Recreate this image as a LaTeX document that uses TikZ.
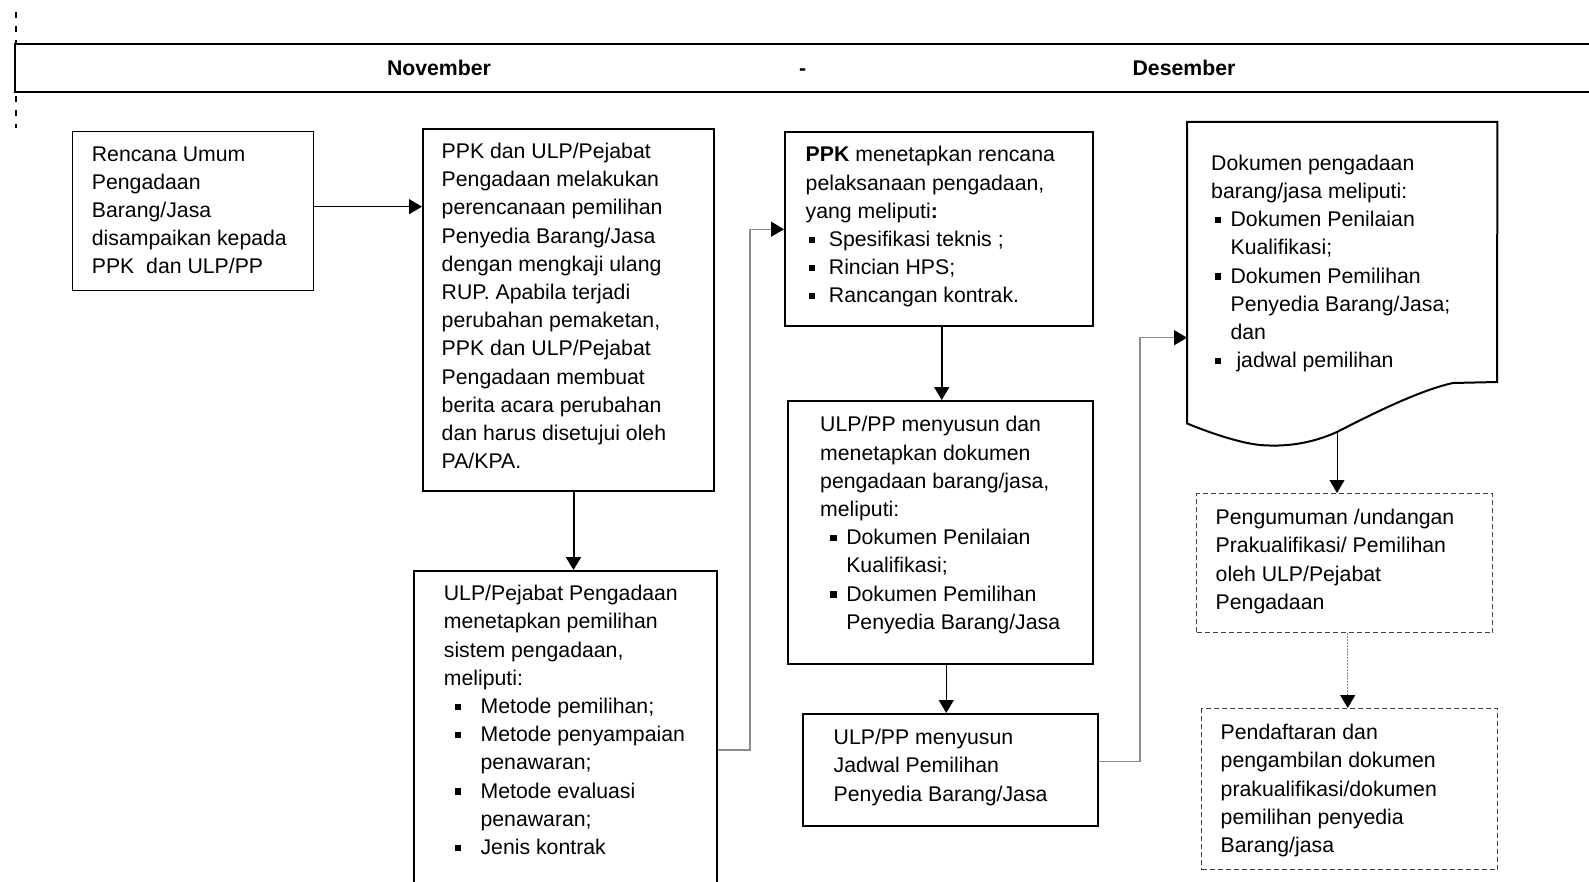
\documentclass[tikz,border=0pt]{standalone}
\usepackage{fontspec}
\setmainfont{Liberation Sans}
\usetikzlibrary{positioning,arrows.meta}
\definecolor{linkgray}{HTML}{8C8C8C}
\definecolor{dashgray}{HTML}{404040}
\newcommand{\sqbul}{\rule[0.16em]{0.3em}{0.3em}}
\newcommand{\itm}[2]{\hspace*{#1}\makebox[#2][l]{\sqbul}}
\newcommand{\cont}[1]{\hspace*{#1}}
\tikzset{
  flowarrow/.style={-{Triangle[length=13pt, width=15pt]}, line width=1.3pt},
  linkarrow/.style={-{Triangle[length=13pt, width=15pt, color=black]}, draw=linkgray, line width=1.3pt},
  dotarrow/.style={-{Triangle[length=13pt, width=15pt, color=black]}, draw=linkgray, line width=1.2pt, dash pattern=on 1.5pt off 1.5pt},
  frame/.style={draw, line width=2pt, inner sep=0pt, anchor=north west},
  thinframe/.style={frame, line width=1.3pt},
  dashframe/.style={draw=dashgray, line width=1.4pt, dash pattern=on 5pt off 3pt, inner sep=0pt, anchor=north west},
  txt/.style={anchor=north west, inner sep=0pt, align=left, font=\fontsize{21.25}{28.2}\selectfont},
  month/.style={anchor=base, inner sep=0pt, font=\fontsize{21.25}{28.2}\selectfont\bfseries}
}

\begin{document}
\begin{tikzpicture}[x=1pt, y=-1pt]
  \useasboundingbox (0,0) rectangle (1589,882);
  % time bar
  \draw[line width=1.6pt, dash pattern=on 5.5pt off 8.5pt] (16,12.5) -- (16,128);
  \node[frame, fill=white, minimum width=1600pt, minimum height=47.5pt] (bar) at (14.3,43.5) {};
  \node[month] (nov) at (439,76) {November};
  \node[month] (sep) at (802.6,76) {-};
  \node[month] (des) at (1184,76) {Desember};

  % boxes
  \node[thinframe, minimum width=241pt, minimum height=159pt] (rup) at (72,131) {};
  \node[frame, minimum width=291pt, minimum height=362pt] (plan) at (422,128) {};
  \node[thinframe, line width=1.6pt, minimum width=303pt, minimum height=340pt] (sys) at (413,570) {};
  \node[frame, minimum width=307.5pt, minimum height=193.5pt] (ppk) at (784,131.5) {};
  \node[frame, minimum width=304.5pt, minimum height=263pt] (dok) at (787,400) {};
  \node[thinframe, line width=1.6pt, minimum width=295pt, minimum height=112pt] (jad) at (802,713) {};
  \node[anchor=north west, inner sep=0pt, minimum width=310pt, minimum height=301pt] (doc) at (1187,122) {};
  \draw[line width=2pt, line join=miter] (doc.north west) -- (doc.north east) -- (1497,382) -- (1453,383)
    .. controls (1420,390) and (1370,415) .. (1337,432)
    .. controls (1310,444) and (1285,447) .. (1260,445)
    .. controls (1240,443) and (1210,433) .. (doc.south west) -- cycle;
  \coordinate (docb) at (1337,432);
  \node[dashframe, minimum width=296pt, minimum height=139pt] (annc) at (1196,493) {};
  \node[dashframe, minimum width=296pt, minimum height=161pt] (daft) at (1201,708) {};

  % texts
  \node[txt] (rupT) at (91.7,146.3) {Rencana Umum\\ Pengadaan\\ Barang/Jasa\\ disampaikan kepada\\ PPK\ \ dan ULP/PP};
  \node[txt] (planT) at (441.5,143) {PPK dan ULP/Pejabat\\ Pengadaan melakukan\\ perencanaan pemilihan\\ Penyedia Barang/Jasa\\ dengan mengkaji ulang\\ RUP. Apabila terjadi\\ perubahan pemaketan,\\ PPK dan ULP/Pejabat\\ Pengadaan membuat\\ berita acara perubahan\\ dan harus disetujui oleh\\ PA/KPA.};
  \node[txt] (sysT) at (443.7,585) {ULP/Pejabat Pengadaan\\ menetapkan pemilihan\\ sistem pengadaan,\\ meliputi:\\
    \itm{10.6pt}{26.1pt}Metode pemilihan;\\
    \itm{10.6pt}{26.1pt}Metode penyampaian\\ \cont{36.7pt}penawaran;\\
    \itm{10.6pt}{26.1pt}Metode evaluasi\\ \cont{36.7pt}penawaran;\\
    \itm{10.6pt}{26.1pt}Jenis kontrak};
  \node[txt] (ppkT) at (805.5,146.3) {\textbf{PPK} menetapkan rencana\\ pelaksanaan pengadaan,\\ yang meliputi\textbf{:}\\
    \itm{3.2pt}{20pt}Spesifikasi teknis ;\\
    \itm{3.2pt}{20pt}Rincian HPS;\\
    \itm{3.2pt}{20pt}Rancangan kontrak.};
  \node[txt] (dokT) at (820,416.3) {ULP/PP menyusun dan\\ menetapkan dokumen\\ pengadaan barang/jasa,\\ meliputi:\\
    \itm{10pt}{16.1pt}Dokumen Penilaian\\ \cont{26.1pt}Kualifikasi;\\
    \itm{10pt}{16.1pt}Dokumen Pemilihan\\ \cont{26.1pt}Penyedia Barang/Jasa};
  \node[txt] (jadT) at (833.5,729) {ULP/PP menyusun\\ Jadwal Pemilihan\\ Penyedia Barang/Jasa};
  \node[txt] (docT) at (1211,154.7) {Dokumen pengadaan\\ barang/jasa meliputi:\\
    \itm{3.3pt}{16.1pt}Dokumen Penilaian\\ \cont{19.4pt}Kualifikasi;\\
    \itm{3.3pt}{16.1pt}Dokumen Pemilihan\\ \cont{19.4pt}Penyedia Barang/Jasa;\\ \cont{19.4pt}dan\\
    \itm{3.3pt}{16.1pt}\ jadwal pemilihan};
  \node[txt] (anncT) at (1215.5,509) {Pengumuman /undangan\\ Prakualifikasi/ Pemilihan\\ oleh ULP/Pejabat\\ Pengadaan};
  \node[txt] (daftT) at (1220.5,724) {Pendaftaran dan\\ pengambilan dokumen\\ prakualifikasi/dokumen\\ pemilihan penyedia\\ Barang/jasa};

  % connectors
  \draw[flowarrow] ([yshift=4.5pt]rup.east) -- ([yshift=4.5pt]rup.east -| plan.west);
  \draw[flowarrow, line width=2pt] ([xshift=5pt]plan.south) -- ([xshift=5pt]plan.south |- sys.north);
  \coordinate (bend1) at (750,750);
  \draw[linkarrow] (sys.east |- bend1) -- (bend1) |- (ppk.west);
  \draw[flowarrow, line width=2pt] ([xshift=3pt]ppk.south) -- ([xshift=3pt]ppk.south |- dok.north);
  \draw[flowarrow, line width=1pt] ([xshift=6pt]dok.south) -- ([xshift=6pt]dok.south |- jad.north);
  \coordinate (bend2) at (1140,761.5);
  \draw[linkarrow] (jad.east |- bend2) -- (bend2) |- ([yshift=-65pt]doc.west);
  \draw[flowarrow, line width=1pt] (docb) -- (docb |- annc.north);
  \draw[dotarrow] ([xshift=3pt]annc.south) -- ([xshift=3pt]annc.south |- daft.north);
\end{tikzpicture}
\end{document}
